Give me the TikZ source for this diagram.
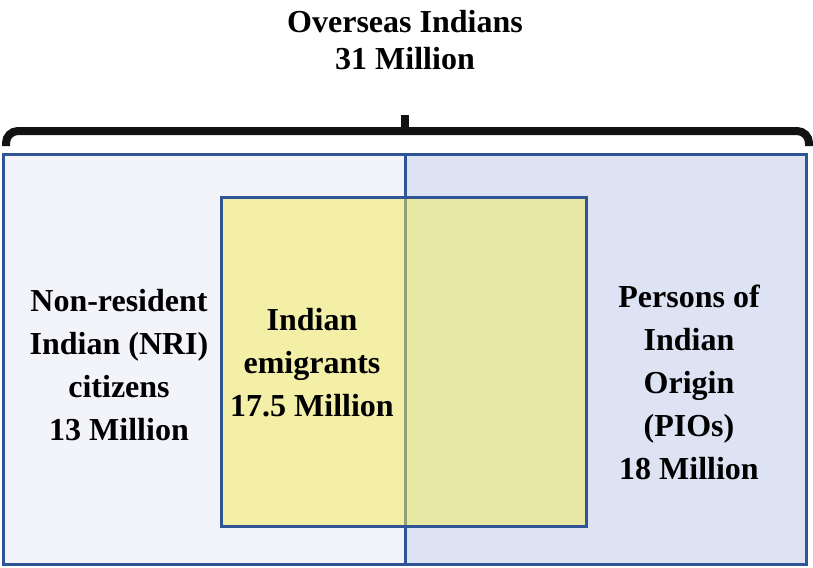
\documentclass[tikz,border=0pt]{standalone}
\usepackage{fontspec}
\setmainfont{Liberation Serif}
\usepackage{tikz}
\definecolor{frameblue}{RGB}{47,85,151}
\definecolor{nrifill}{RGB}{243,244,250}
\definecolor{piofill}{RGB}{221,227,243}
\definecolor{emifill}{RGB}{245,236,86}
\tikzstyle{label} = [align=center, font=\bfseries\fontsize{16}{21.5}\selectfont, text=black]
\tikzstyle{title} = [align=center, font=\bfseries\fontsize{16}{18.5}\selectfont, text=black]
\tikzstyle{frame} = [draw=frameblue, line width=1.5pt]
\tikzstyle{bracket} = [line width=4pt, draw=black!93]

\begin{document}
\begin{tikzpicture}[x=0.5pt, y=-0.5pt]
    \useasboundingbox (0,0) rectangle (813,567);

    % groups
    \draw [frame, fill=nrifill] (3,154) rectangle (405,564);
    \draw [frame, fill=piofill] (405,154) rectangle (806,564);
    \fill [emifill, opacity=0.5] (221,197) rectangle (586,526);
    \draw [frame] (221,197) rectangle (586,526);

    % bracket over everything
    \coordinate (bl) at (6,146);
    \coordinate (br) at (809,146);
    \coordinate (tip) at (405,131);
    \draw [bracket, rounded corners=6pt] (bl) |- (tip) -| (br);
    \draw [bracket] (tip) -- ++(0,-16);

    \node [title] at (405,40) (overseas) {Overseas Indians\\31 Million};
    \node [label] at (119,365) (nri) {Non-resident\\Indian (NRI)\\citizens\\13 Million};
    \node [label] at (312,363) (emigrants) {Indian\\emigrants\\17.5 Million};
    \node [label] at (689,382) (pio) {Persons of\\Indian\\Origin\\(PIOs)\\18 Million};
\end{tikzpicture}
\end{document}
